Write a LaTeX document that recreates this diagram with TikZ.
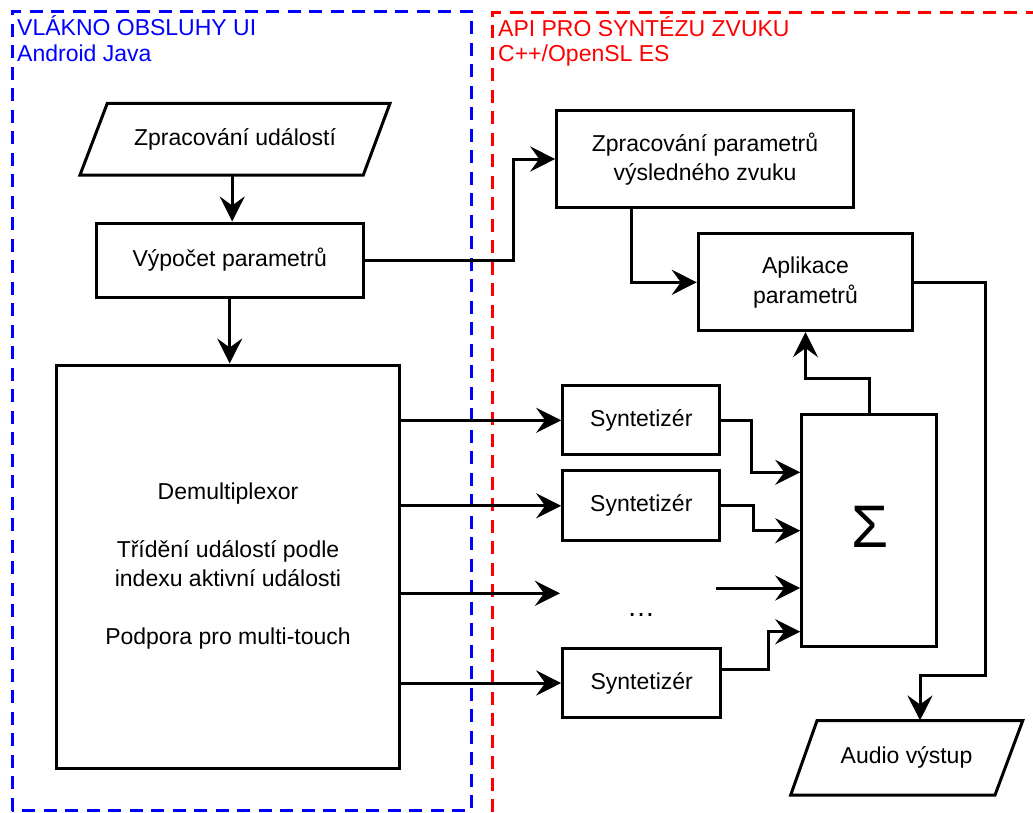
\documentclass[tikz,border=0pt]{standalone}
\usepackage{fontspec}
\setmainfont{Liberation Sans}
\usetikzlibrary{arrows.meta}
\definecolor{dblue}{RGB}{0,0,255}
\definecolor{dred}{RGB}{255,0,0}
\begin{document}
\begin{tikzpicture}[x=1pt,y=-1pt,
  every node/.style={font=\fontsize{23}{28.5}\selectfont, inner sep=0pt},
  box/.style={draw, line width=3pt, align=center},
  ghost/.style={align=center},
  conn/.style={line width=3pt, -{Stealth[length=25pt,width=25pt,inset=9pt]}},
  lane/.style={line width=3pt, dash pattern=on 13pt off 8.5pt},
  title/.style={anchor=base west, font=\fontsize{23}{26}\selectfont}
]
\useasboundingbox (0,0) rectangle (1033,812);
\fill[white] (0,0) rectangle (1033,812);

% swimlanes
\draw[lane, dblue] (12,810.5) -- (12,11) -- (471,11) -- (471,810.5) -- cycle;
\draw[lane, dred] (492,812) -- (492,12.5) -- (1040,12.5);
\node[title, text=dblue] (t1) at (17,35.7) {VLÁKNO OBSLUHY UI};
\node[title, text=dblue] (t2) at (17,61.7) {Android Java};
\node[title, text=dred] (t3) at (498,36.7) {API PRO SYNTÉZU ZVUKU};
\node[title, text=dred] (t4) at (498,61.7) {C++/OpenSL ES};

% parallelograms
\draw[line width=3pt, line join=miter] (107.3,103.3) -- (390,103.3) -- (363.3,175) -- (80,175) -- cycle;
\node[ghost, minimum width=283pt, minimum height=71.7pt] (zu) at (235,139.2) {Zpracování událostí};
\draw[line width=3pt, line join=miter] (817,720.7) -- (1022.7,720.7) -- (995,795) -- (790.7,795) -- cycle;
\node[ghost, minimum width=206pt, minimum height=74.3pt] (au) at (906.5,757.8) {Audio výstup};

% boxes
\node[box, minimum width=267.3pt, minimum height=74pt] (vp) at (229.7,260) {Výpočet parametrů};
\node[box, minimum width=342.6pt, minimum height=403pt, font=\fontsize{23}{29}\selectfont] (demux) at (228,566.5) {Demultiplexor\\ \\ Třídění událostí podle\\indexu aktivní události\\ \\Podpora pro multi-touch};
\node[box, minimum width=296.6pt, minimum height=96.6pt] (zpv) at (705,159) {Zpracování parametrů\\výsledného zvuku};
\node[box, minimum width=214.4pt, minimum height=96.7pt, font=\fontsize{23}{30}\selectfont] (ap) at (805.5,282.3) {Aplikace\\parametrů};
\node[box, minimum width=157.3pt, minimum height=69.3pt] (s1) at (641.3,420.3) {Syntetizér};
\node[box, minimum width=157.3pt, minimum height=69.7pt] (s2) at (641.3,505.8) {Syntetizér};
\node[box, minimum width=158pt, minimum height=69pt] (s3) at (641.7,683) {Syntetizér};
\node[box, minimum width=135pt, minimum height=232pt] (sig) at (869.2,530) {};
\node[font=\fontsize{60}{60}\selectfont] (sigma) at (870,527) {Σ};
\node[anchor=base, font=\fontsize{28}{28}\selectfont] (dots) at (641,616) {…};
\coordinate (din) at (560,593.3);
\coordinate (dout) at (716,588);

% connectors
\draw[conn] ([xshift=2.5pt]vp.north |- zu.south) -- ([xshift=2.5pt]vp.north);
\draw[conn] (vp.south) -- (vp.south |- demux.north);
\draw[conn] (vp.east) -| (513.3,230) |- (zpv.west);
\draw[conn] ([xshift=-73.3pt]zpv.south) |- (ap.west);
\draw[conn] (ap.east) -| (985,675) -| ([xshift=13.5pt]au.north);
\draw[conn] (demux.east |- s1.west) -- (s1.west);
\draw[conn] (demux.east |- s2.west) -- (s2.west);
\draw[conn] (demux.east |- din) -- (din);
\draw[conn] (demux.east |- s3.west) -- (s3.west);
\draw[conn] (s1.east) -| (751.7,472.3) -- (sig.west |- 0,472.3);
\draw[conn] (s2.east) -| (753.3,530.7) -- (sig.west |- 0,530.7);
\draw[conn] (dout) -- (sig.west |- dout);
\draw[conn] ([yshift=14pt]s3.east) -| (768,631.7) -- (sig.west |- 0,631.7);
\draw[conn] (sig.north) -- ++(0,-34) -| (ap.south);
\end{tikzpicture}
\end{document}
